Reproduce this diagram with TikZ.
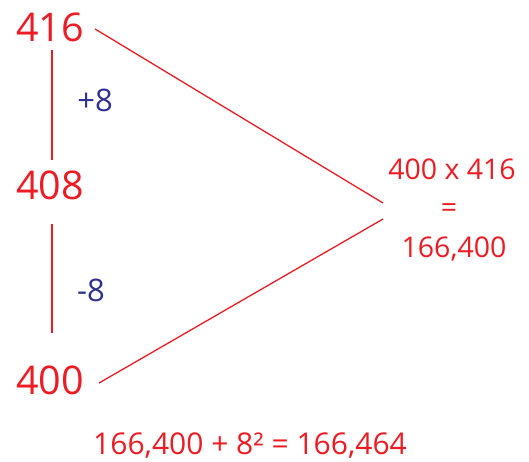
\documentclass[tikz,border=0pt]{standalone}
\usepackage{fontspec}
\setmainfont{Open Sans}
\definecolor{myred}{RGB}{237,28,36}
\definecolor{myblue}{RGB}{46,49,146}
\begin{document}
\begin{tikzpicture}[x=1pt,y=-1pt,
  bignum/.style={text=myred,font=\fontsize{39.5}{41}\selectfont,inner sep=0pt},
  diffnum/.style={text=myblue,font=\fontsize{31}{33}\selectfont,inner sep=0pt},
  rtext/.style={text=myred,font=\fontsize{28.5}{30}\selectfont,inner sep=0pt},
  redline/.style={draw=myred,line width=1.3pt}]
\useasboundingbox (0,0) rectangle (529,461);
\node[bignum] (n416) at (50,27) {416};
\node[bignum] (n408) at (50,185) {408};
\node[bignum] (n400) at (50,380) {400};
\node[diffnum] (plus) at (95,100) {+8};
\node[diffnum] (minus) at (91,290) {-8};
\node[rtext] (prod) at (452,169) {400 x 416};
\node[rtext] (eq) at (449,211) {=};
\node[rtext] (res) at (454,249) {166,400};
\node[rtext,font=\fontsize{30}{32}\selectfont] (final) at (250,446) {166,400 + 8² = 166,464};
\coordinate (tipA) at (383,203);
\coordinate (tipB) at (383,219);
\draw[redline] ([xshift=2pt,yshift=-8pt]n416.south) -- ([xshift=2pt,yshift=10pt]n408.north);
\draw[redline] ([xshift=2pt,yshift=-24pt]n408.south) -- ([xshift=2pt,yshift=32pt]n400.north);
\draw[redline] ([xshift=11pt,yshift=-2pt]n416.east) -- (tipA);
\draw[redline] ([xshift=15pt,yshift=-3pt]n400.east) -- (tipB);
\end{tikzpicture}
\end{document}
